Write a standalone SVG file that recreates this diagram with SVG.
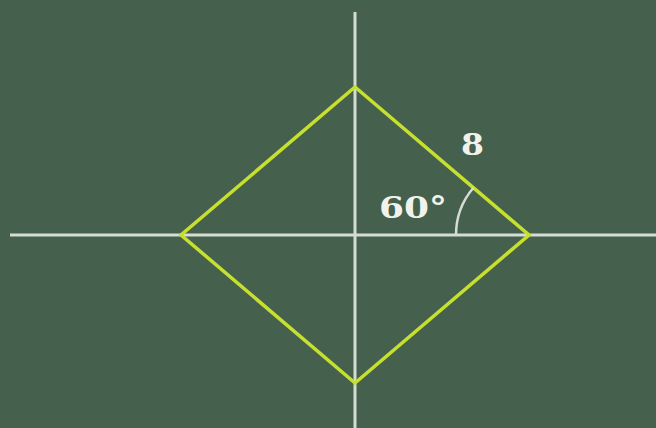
<svg xmlns="http://www.w3.org/2000/svg" width="656" height="428" viewBox="0 0 656 428">
<style>
.axis{stroke:#d4dcd4;stroke-width:3;fill:none}
.edge{stroke:#c6e030;stroke-width:3.5;fill:none;stroke-linejoin:miter}
.lbl{font-family:"DejaVu Serif","Liberation Serif",serif;font-weight:bold;font-size:29px;fill:#f2f2ec}
</style>
<rect width="656" height="428" fill="#45604c"/>
<g id="axes">
<line class="axis" x1="10" y1="235" x2="656" y2="235"/>
<line class="axis" x1="355" y1="12" x2="355" y2="428"/>
</g>
<g id="rhombus">
<polygon class="edge" points="355,87 529,235 355,383 181,235"/>
</g>
<g id="angle">
<path class="axis" d="M456,235 A73,73 0 0 1 473.4,187.7" style="stroke-width:2.5"/>
</g>
<text class="lbl" x="379" y="218" textLength="68" lengthAdjust="spacingAndGlyphs">60°</text>
<text class="lbl" x="461" y="155" textLength="23" lengthAdjust="spacingAndGlyphs">8</text>
</svg>
